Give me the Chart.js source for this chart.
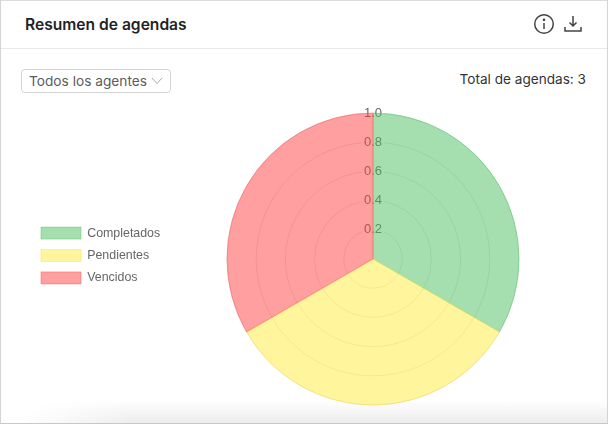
<!DOCTYPE html>
<html><head><meta charset="utf-8">
<script src="https://cdn.jsdelivr.net/npm/chart.js@4/dist/chart.umd.min.js"></script>
<style>
html,body{margin:0;padding:0;background:#fff;}
#card{position:relative;width:608px;height:424px;box-sizing:border-box;overflow:hidden;background:#fff;font-family:Inter,"Liberation Sans",sans-serif;}
#frame{position:absolute;inset:0;border:1px solid #d4d4d4;border-top:1px solid #dcdcdc;border-bottom:1px solid #c8c8c8;pointer-events:none;z-index:5;}
#shade{position:absolute;left:0;right:0;bottom:0;height:24px;background:linear-gradient(to bottom,rgba(238,238,238,0),rgba(236,236,236,1));z-index:0;-webkit-mask-image:linear-gradient(to right,transparent 20px,#000 130px);}
#title{position:absolute;left:25px;top:15px;font-size:15.6px;font-weight:600;line-height:20px;color:#1f2328;}
#rule{position:absolute;left:0;right:0;top:48px;height:1px;background:#e8e8e8;}
#select{position:absolute;left:21px;top:69px;width:150px;height:24px;box-sizing:border-box;border:1px solid #d5d5d5;border-radius:4px;font-size:13.7px;line-height:23px;padding-left:7px;color:#5c5c5c;white-space:nowrap;}
#total{position:absolute;right:22px;top:70px;font-size:13.6px;line-height:18px;color:#333;}
#c-wrap{position:absolute;left:31px;top:87px;width:546px;height:330px;z-index:1;}
svg{position:absolute;}
</style></head>
<body><div id="card">
<div id="shade"></div>
<div id="title">Resumen de agendas</div>
<svg style="left:533px;top:13px" width="22" height="22" viewBox="0 0 22 22" fill="none" stroke="#444" stroke-width="1.5"><circle cx="11" cy="11" r="9.3"/><path d="M11 10v6" /><circle cx="11" cy="6.8" r="0.6" fill="#444"/></svg>
<svg style="left:563px;top:14px" width="20" height="20" viewBox="0 0 20 20" fill="none" stroke="#444" stroke-width="1.5"><path d="M10 2v10M6.5 8.5l3.5 3.5 3.5-3.5M2 13v4h16v-4"/></svg>
<div id="rule"></div>
<div id="select">Todos los agentes<svg style="left:129px;top:7px" width="12" height="8" viewBox="0 0 12 8" fill="none" stroke="#aaa" stroke-width="1"><path d="M1 1l5 5.5L11 1"/></svg></div>
<div id="total">Total de agendas: 3</div>
<div id="c-wrap"><canvas id="c"></canvas></div>
<div id="frame"></div>
</div>
<script>
const categories=["Completados","Pendientes","Vencidos"];
const values=[1,1,1];
const fills=["rgba(75,192,98,0.5)","rgba(255,235,59,0.5)","rgba(255,64,64,0.5)"];
const edges=["rgba(75,192,98,0.4)","rgba(255,225,90,0.5)","rgba(255,100,100,0.5)"];
const tickLabels=[0.2,0.4,0.6,0.8,1.0];
const legendNudge={id:'legendNudge',afterLayout(chart){const l=chart.legend;l.top-=4;l.bottom-=4;}};
new Chart(document.getElementById('c'),{
 type:'polarArea',
 data:{labels:categories,datasets:[{data:values,backgroundColor:fills,borderColor:edges,borderWidth:1}]},
 plugins:[legendNudge],
 options:{
  responsive:true,maintainAspectRatio:false,animation:false,
  layout:{padding:{top:18,bottom:3,left:0,right:0}},
  plugins:{
   tooltip:{enabled:false},
   legend:{position:'left',labels:{boxWidth:40,boxHeight:12,padding:10,font:{family:'"Liberation Sans"',size:12.4},color:'#666'}}
  },
  scales:{r:{min:0,max:1,
    afterBuildTicks(s){s.ticks=[0].concat(tickLabels).map(v=>({value:v}));},
    ticks:{stepSize:0.2,color:'#666',font:{family:'"Liberation Sans"',size:13},callback:v=>v===0?'':Number(v).toFixed(1),backdropColor:'rgba(255,255,255,0.75)'},
    grid:{color:'rgba(0,0,0,0.1)'}
  }}
 }
});
</script></body></html>
